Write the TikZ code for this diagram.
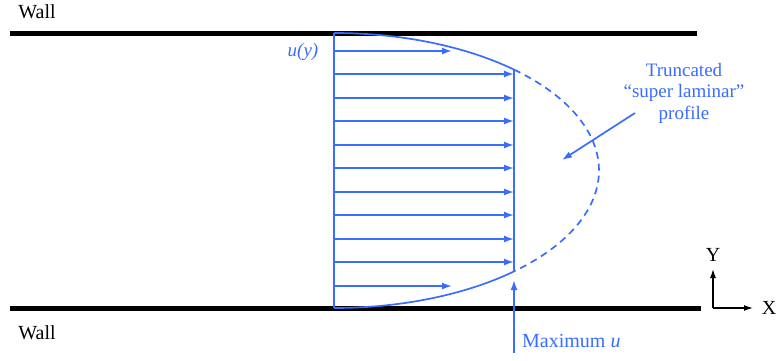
\documentclass[tikz,border=0pt]{standalone}
\usepackage{fontspec}
\setmainfont{Liberation Serif}
\usetikzlibrary{arrows.meta}
\definecolor{flowblue}{RGB}{58,108,255}
\tikzset{
  wall/.style={line width=5pt, black},
  flow/.style={flowblue, line width=1.7pt},
  flowarrow/.style={flowblue, line width=1.7pt, -{Latex[length=10pt,width=7pt]}},
  axisarrow/.style={black, line width=1.3pt, -{Latex[length=9pt,width=6pt]}},
  lbl/.style={inner sep=0pt, font=\fontsize{20}{23}\selectfont},
  bluelbl/.style={inner sep=0pt, text=flowblue, font=\fontsize{19}{21.5}\selectfont}
}
\begin{document}
\begin{tikzpicture}[x=1pt,y=1pt]
\useasboundingbox (0,0) rectangle (780,360);
% walls
\coordinate (twl) at (10,327); \coordinate (twr) at (697,327);
\coordinate (bwl) at (10,52);  \coordinate (bwr) at (701,52);
\draw[wall] (twl) -- (twr);
\draw[wall] (bwl) -- (bwr);
\node[lbl] (walltop) at (37,348) {Wall};
\node[lbl] (wallbot) at (37,27) {Wall};
% profile base line
\coordinate (base top) at (334,327);
\coordinate (base bot) at (334,52);
\draw[flow] (base top) -- (base bot);
% ellipse profile: centre (334,189.5), rx 265, ry 137.5
\coordinate (cut top) at ({334+265*cos(47.2)},{189.5+137.5*sin(47.2)});
\coordinate (cut bot) at ({334+265*cos(47.2)},{189.5-137.5*sin(47.2)});
\draw[flow] (base top) arc[start angle=90, end angle=47.2, x radius=265, y radius=137.5];
\draw[flow, dash pattern=on 7pt off 5pt] (cut top) arc[start angle=47.2, end angle=-47.2, x radius=265, y radius=137.5];
\draw[flow] (cut bot) arc[start angle=-47.2, end angle=-90, x radius=265, y radius=137.5];
\draw[flow] (cut top) -- (cut bot);
% velocity arrows
\foreach \i/\y in {1/309,11/74}{
  \coordinate (s\i) at (334,\y); \coordinate (e\i) at (452,\y);
  \draw[flowarrow] (s\i) -- (e\i);
}
\foreach \i/\y in {2/286,3/262,4/239,5/215,6/192,7/168,8/145,9/121,10/98}{
  \coordinate (s\i) at (334,\y); \coordinate (e\i) at (514,\y);
  \draw[flowarrow] (s\i) -- (e\i);
}
\node[bluelbl, font=\itshape\fontsize{19}{21.5}\selectfont] (uy) at (303,308) {u(y)};
% maximum u
\coordinate (maxfoot) at (514,7);
\coordinate (maxtip) at (514,80);
\draw[flowarrow] (maxfoot) -- (maxtip);
\node[bluelbl, font=\fontsize{20}{23}\selectfont, anchor=base west] (maxlbl) at (522,13) {Maximum \textit{u}};
% truncated label
\node[bluelbl, align=center] (trunc) at (684,267) {Truncated\\“super laminar”\\profile};
\coordinate (tstart) at (635,247);
\coordinate (tend) at (562,200);
\draw[flowarrow] (tstart) -- (tend);
% axes
\coordinate (origin) at (713,52);
\coordinate (ytip) at (713,91);
\coordinate (xtip) at (753,52);
\draw[axisarrow] (origin) -- (ytip);
\draw[axisarrow] (origin) -- (xtip);
\node[lbl] (ylbl) at (713,105) {Y};
\node[lbl] (xlbl) at (769,52) {X};
\end{tikzpicture}
\end{document}
